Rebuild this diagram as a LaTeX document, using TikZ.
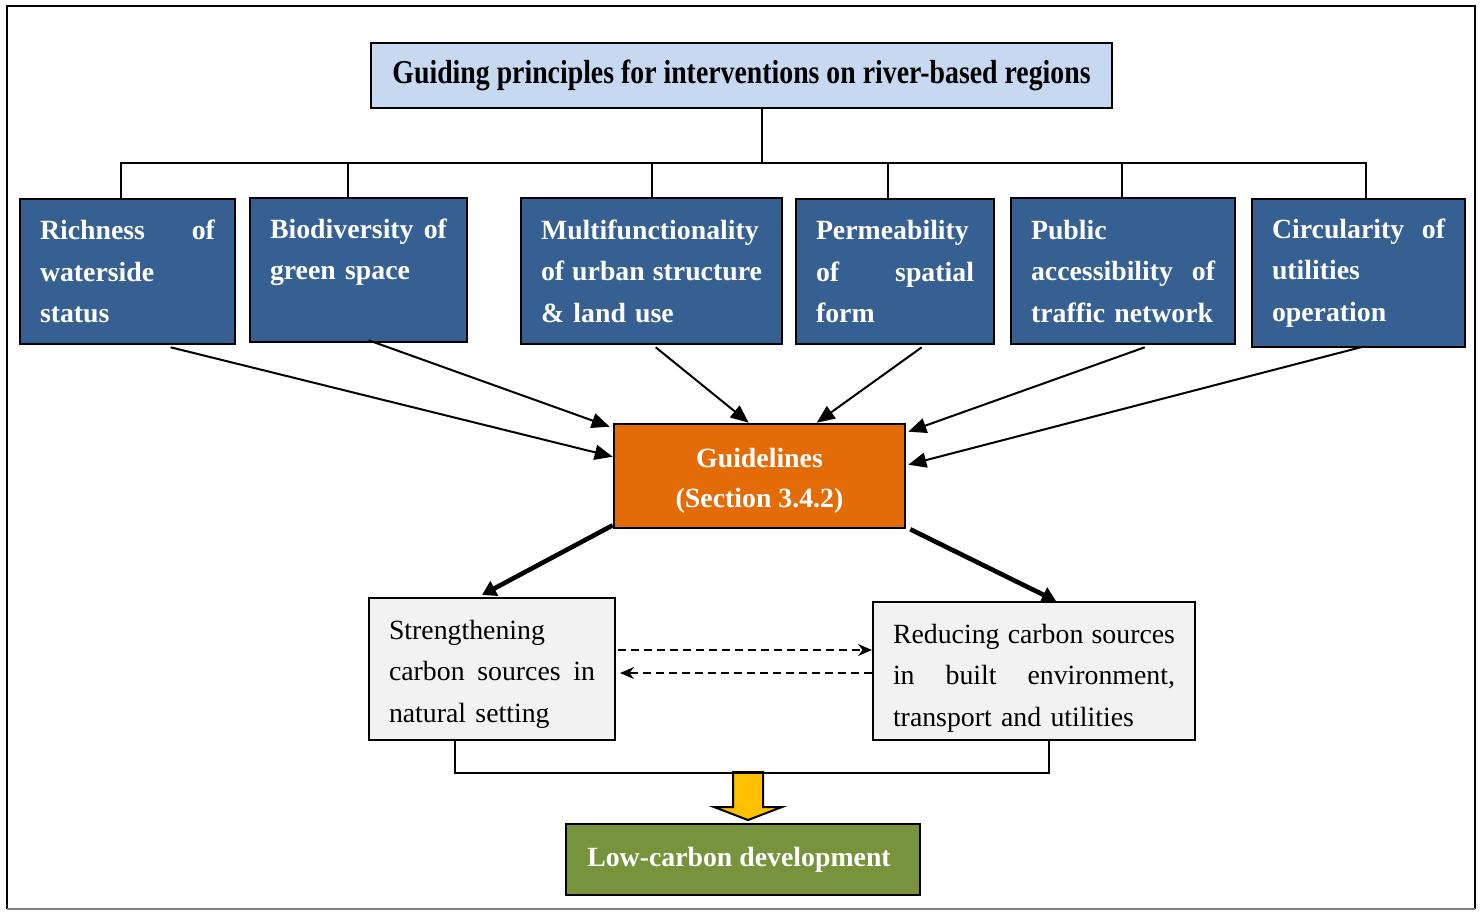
\documentclass[tikz,border=0pt]{standalone}
\usepackage{fontspec}
\setmainfont{Liberation Serif}
\usetikzlibrary{arrows.meta,calc}
\definecolor{titlefill}{HTML}{C6D9F1}
\definecolor{aspectfill}{HTML}{376092}
\definecolor{guidefill}{HTML}{E36C09}
\definecolor{outcomefill}{HTML}{F2F2F2}
\definecolor{goalfill}{HTML}{77933C}
\definecolor{flowfill}{HTML}{FFC000}
% a line set to a given width, its spaces stretched evenly
\newcommand{\fullline}[2]{\leavevmode\hbox to #1{\spaceskip=\fontdimen2\font plus 1fil\relax #2}}
\begin{document}
\begin{tikzpicture}[x=0.5pt,y=-0.5pt,
  box/.style={draw=black, line width=1.3pt, inner sep=0pt},
  titlebox/.style={box, fill=titlefill, font=\fontsize{13.9pt}{20.75pt}\selectfont\bfseries},
  aspect/.style={box, fill=aspectfill, text=white, align=left,
    font=\fontsize{13.9pt}{20.75pt}\selectfont\bfseries},
  guide/.style={box, fill=guidefill},
  guidetext/.style={inner sep=0pt, text=white, align=center,
    font=\fontsize{13.9pt}{20pt}\selectfont\bfseries},
  outcome/.style={draw=black, line width=1pt, inner sep=0pt, fill=outcomefill},
  outcometext/.style={inner sep=0pt, align=left, font=\fontsize{13.9pt}{20.75pt}\selectfont},
  goal/.style={box, fill=goalfill, text=white, font=\fontsize{13.9pt}{20.75pt}\selectfont\bfseries},
  link/.style={draw=black, line width=1pt},
  feed/.style={draw=black, line width=1pt, -{Triangle[length=9pt,width=7.5pt]}},
  major/.style={draw=black, line width=2.3pt, -{Triangle[length=7pt,width=8pt]}},
  mutual/.style={draw=black, line width=0.9pt, dash pattern=on 4pt off 2.5pt,
    -{Stealth[length=7pt,width=6pt]}},
  flowarrow/.style={draw=black, line width=1pt, fill=flowfill, line join=miter}
]
\useasboundingbox (0,0) rectangle (1482,911);

% outer frame
\draw[black, line width=1pt] (7,909) -- (7,6) -- (1475,6) -- (1475,909);
\draw[gray, line width=1pt] (7,909) -- (1475,909);

% heading
\node[titlebox, minimum width=370.5pt, minimum height=32.5pt] (t) at (741.5,75.5)
  {\raisebox{-1.5pt}{\scalebox{1}[1.2]{Guiding principles for interventions on river-based regions}}};

% six principles
\node[aspect, minimum width=107.5pt, minimum height=72.5pt, text width=87.5pt] (b1) at (127.5,271.5)
  {\fullline{87.5pt}{Richness of}\\waterside\\status};
\node[aspect, minimum width=108.5pt, minimum height=72pt, text width=88.5pt] (b2) at (358.5,270)
  {\fullline{88.5pt}{Biodiversity of}\\green space\\\mbox{}};
\node[aspect, minimum width=130.5pt, minimum height=73pt, text width=110.5pt] (b3) at (651.5,271)
  {\mbox{Multifunctionality}\\\fullline{110.5pt}{of urban structure}\\\& land use};
\node[aspect, minimum width=99pt, minimum height=72.5pt, text width=79pt] (b4) at (895,271.5)
  {Permeability\\\fullline{79pt}{of spatial}\\form};
\node[aspect, minimum width=112pt, minimum height=73pt, text width=92pt] (b5) at (1123,271)
  {Public\\\fullline{92pt}{accessibility of}\\\mbox{traffic network}};
\node[aspect, minimum width=106.5pt, minimum height=74pt, text width=86.5pt] (b6) at (1358.5,273)
  {\fullline{86.5pt}{Circularity of}\\utilities\\operation};

% guidelines
\node[guide, minimum width=145.5pt, minimum height=52pt] (g) at (759.5,476) {};
\node[guidetext] (gt) at ($(g.center)+(0,5)$) {Guidelines\\(Section 3.4.2)};

% two strategies
\node[outcome, minimum width=123pt, minimum height=71pt] (l) at (492,669) {};
\node[outcometext, text width=103pt] (lt) at ($(l.center)+(0,5)$)
  {Strengthening\\\fullline{103pt}{carbon sources in}\\natural setting};
\node[outcome, minimum width=161pt, minimum height=69pt] (r) at (1034,671) {};
\node[outcometext, text width=141pt] (rt) at ($(r.center)+(0,7)$)
  {\fullline{141pt}{Reducing carbon sources}\\\fullline{141pt}{in built environment,}\\transport and utilities};

% target
\node[goal, minimum width=177pt, minimum height=35.5pt] (d) at (743,859.5)
  {Low-carbon development\kern4pt};

% tree from heading to principles
\draw[link] ($(t.south)+(20,0)$) -- (761.5,163) coordinate (bus);
\draw[link] ($(b1.north west)+(102,0)$) |- (bus);
\draw[link] ($(b2.north west)+(99,0)$) |- (bus);
\draw[link] ($(b3.north west)+(132,0)$) |- (bus);
\draw[link] ($(b4.north west)+(93,0)$) |- (bus);
\draw[link] ($(b5.north west)+(112,0)$) |- (bus);
\draw[link] ($(b6.north west)+(115,0)$) |- (bus);

% principles feeding the guidelines
\draw[feed] ($(b1.south west)+(152,2)$) -- ($(g.north west)+(0,34)$);
\draw[feed] ($(b2.south west)+(120,-3)$) -- ($(g.north west)+(-3,4)$);
\draw[feed] ($(b3.south west)+(136,2)$) -- ($(g.north west)+(136,0)$);
\draw[feed] ($(b4.south west)+(127,2)$) -- ($(g.north west)+(204,0)$);
\draw[feed] ($(b5.south west)+(135,2)$) -- ($(g.north east)+(2,9)$);
\draw[feed] ($(b6.south west)+(110,-1)$) -- ($(g.north east)+(2,42)$);

% guidelines to strategies
\draw[major] ($(g.south west)+(0,-4)$) -- ($(l.north west)+(114,-2)$);
\draw[major] ($(g.south east)+(4,0)$) -- ($(r.north west)+(184,0)$);

% interaction between strategies
\coordinate (u) at ($(l.north east)+(2,53)$);
\coordinate (w) at ($(l.north east)+(4,76)$);
\draw[mutual] (u) -- (u -| r.west);
\draw[mutual] (w -| r.west) -- (w);

% strategies combined into the target
\coordinate (ya) at (748,772);
\draw[flowarrow] ($(ya)+(-15,0)$) -- ++(30,0) -- ++(0,35) -- ++(19,0)
  -- ($(ya)+(0,48)$) -- ($(ya)+(-34,35)$) -- ++(19,0) -- cycle;
\draw[link] ($(l.south west)+(87,0)$) -- ++(0,32) -| ($(r.south west)+(177,0)$);
\end{tikzpicture}
\end{document}
